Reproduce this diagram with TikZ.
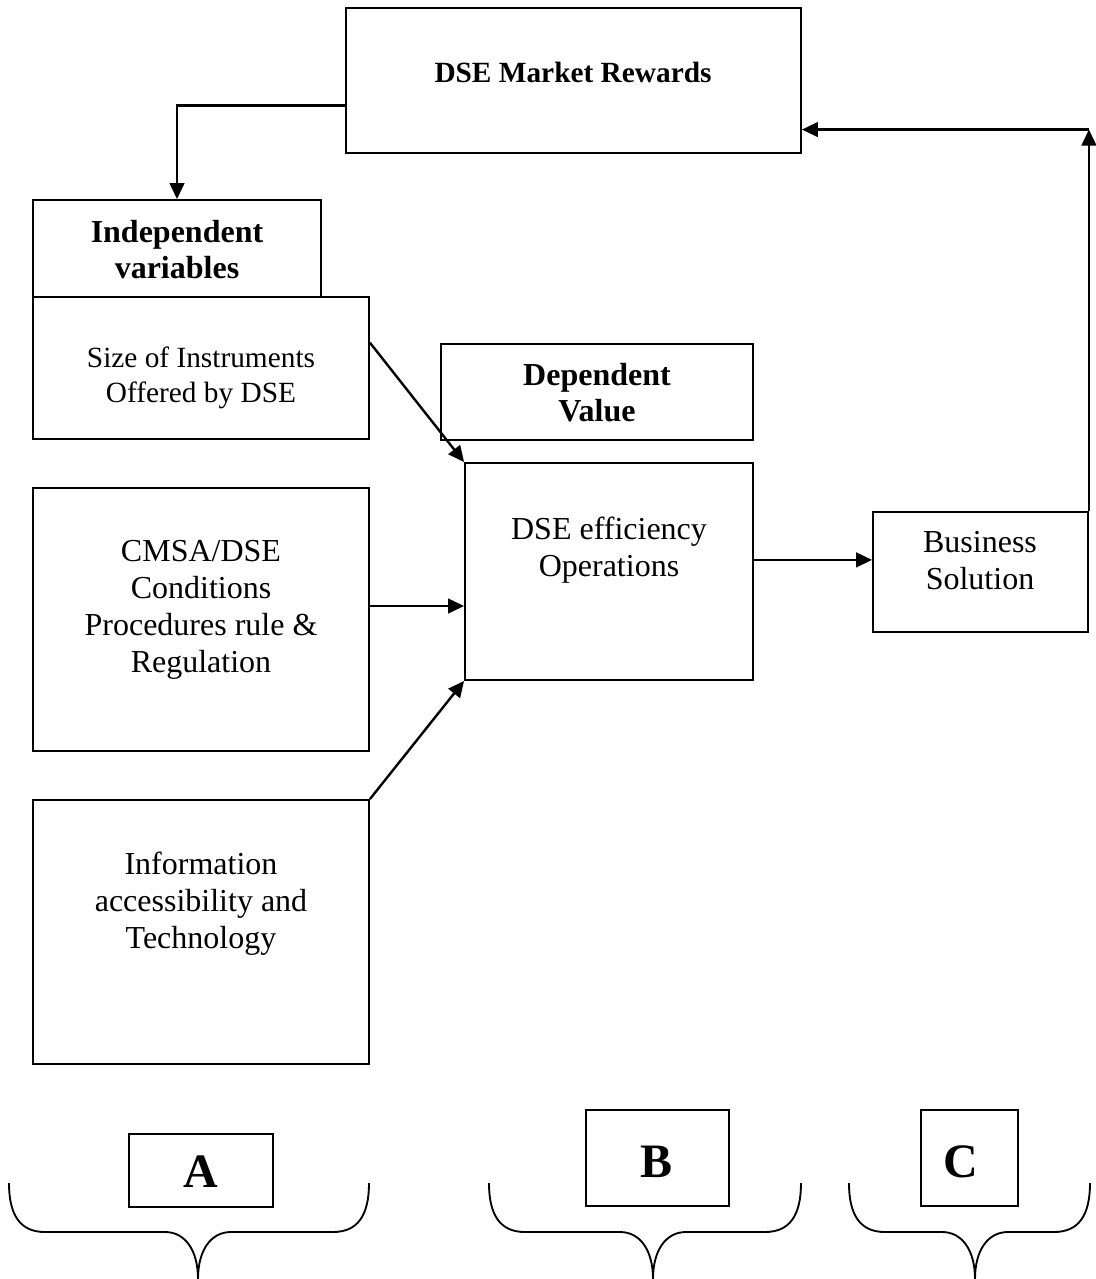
\documentclass[tikz,border=0pt]{standalone}
\usepackage{fontspec}
\setmainfont{Liberation Serif}
\usetikzlibrary{fit,calc,arrows.meta}
\begin{document}
\begin{tikzpicture}[x=0.75pt,y=-0.75pt,
  box/.style={draw,line width=1.4pt,inner sep=0pt},
  arr/.style={line width=1.8pt,-{Triangle[length=12pt,width=11pt]}},
  big/.style={align=center,font=\fontsize{24}{27.75}\selectfont},
  small/.style={align=center,font=\fontsize{22}{26.25}\selectfont},
  bigb/.style={align=center,font=\fontsize{24}{27}\selectfont\bfseries},
  smallb/.style={align=center,font=\fontsize{22}{26}\selectfont\bfseries},
  letter/.style={font=\fontsize{36}{40}\selectfont\bfseries},
  brace/.style={line width=1.4pt}]
\useasboundingbox[fill=white] (0,0) rectangle (1096,1279);
% boxes
\node[box,fit={(346,8)(801,153)}] (market) {};
\node[box,fit={(33,200)(321,297)}] (indep) {};
\node[box,fit={(33,297)(369,439)}] (size) {};
\node[box,fit={(441,344)(753,440)}] (dep) {};
\node[box,fit={(465,463)(753,680)}] (eff) {};
\node[box,fit={(33,488)(369,751)}] (cmsa) {};
\node[box,fit={(33,800)(369,1064)}] (info) {};
\node[box,fit={(873,512)(1088,632)}] (bus) {};
\node[box,fit={(129,1134)(273,1207)}] (boxA) {};
\node[box,fit={(586,1110)(729,1206)}] (boxB) {};
\node[box,fit={(921,1110)(1018,1206)}] (boxC) {};
% texts
\node[smallb] (marketT) at (573,72) {DSE Market Rewards};
\node[bigb] (indepT) at (177,250) {Independent\\variables};
\node[small] (sizeT) at (201,378) {Size of Instruments\\Offered by DSE};
\node[bigb] (depT) at (597,393) {Dependent\\Value};
\node[big] (effT) at (609,550) {DSE efficiency\\Operations};
\node[big] (cmsaT) at (201,610) {CMSA/DSE\\Conditions\\Procedures rule \&\\Regulation};
\node[big] (infoT) at (201,904) {Information\\accessibility and\\Technology};
\node[big] (busT) at (980,561) {Business\\Solution};
\node[letter] (lA) at (201,1172) {A};
\node[letter] (lB) at (657,1162) {B};
\node[letter] (lC) at (961,1162) {C};
% connectors
\coordinate (m1) at ($(market.north west)!0.669!(market.south west)$);
\draw[arr] (m1) -| (indep.north);
\coordinate (s1) at ($(size.north east)!0.324!(size.south east)$);
\draw[arr] (s1) -- (eff.north west);
\coordinate (c1) at ($(cmsa.north east)!0.449!(cmsa.south east)$);
\draw[arr] (c1) -- (c1 -| eff.west);
\draw[arr] (info.north east) -- (eff.south west);
\coordinate (e1) at ($(eff.north east)!0.447!(eff.south east)$);
\draw[arr] (e1) -- (e1 -| bus.west);
\coordinate (mr) at ($(market.north east)!0.834!(market.south east)$);
\coordinate (corner) at (bus.north east |- mr);
\draw[arr] (bus.north east) -- (corner);
\draw[arr] (corner) -- (mr);
% braces
\draw[brace] (9,1183) .. controls (9,1215) and (20,1232) .. (45,1232) -- (165,1232)
  .. controls (185,1232) and (198,1250) .. (198,1279);
\draw[brace] (369,1183) .. controls (369,1215) and (358,1232) .. (333,1232) -- (231,1232)
  .. controls (211,1232) and (198,1250) .. (198,1279);
\draw[brace] (489,1183) .. controls (489,1215) and (500,1232) .. (525,1232) -- (620,1232)
  .. controls (640,1232) and (653,1250) .. (653,1279);
\draw[brace] (801,1183) .. controls (801,1215) and (790,1232) .. (765,1232) -- (686,1232)
  .. controls (666,1232) and (653,1250) .. (653,1279);
\draw[brace] (849,1183) .. controls (849,1215) and (860,1232) .. (885,1232) -- (942,1232)
  .. controls (962,1232) and (975,1250) .. (975,1279);
\draw[brace] (1090,1183) .. controls (1090,1215) and (1079,1232) .. (1054,1232) -- (1008,1232)
  .. controls (988,1232) and (975,1250) .. (975,1279);
\end{tikzpicture}
\end{document}
